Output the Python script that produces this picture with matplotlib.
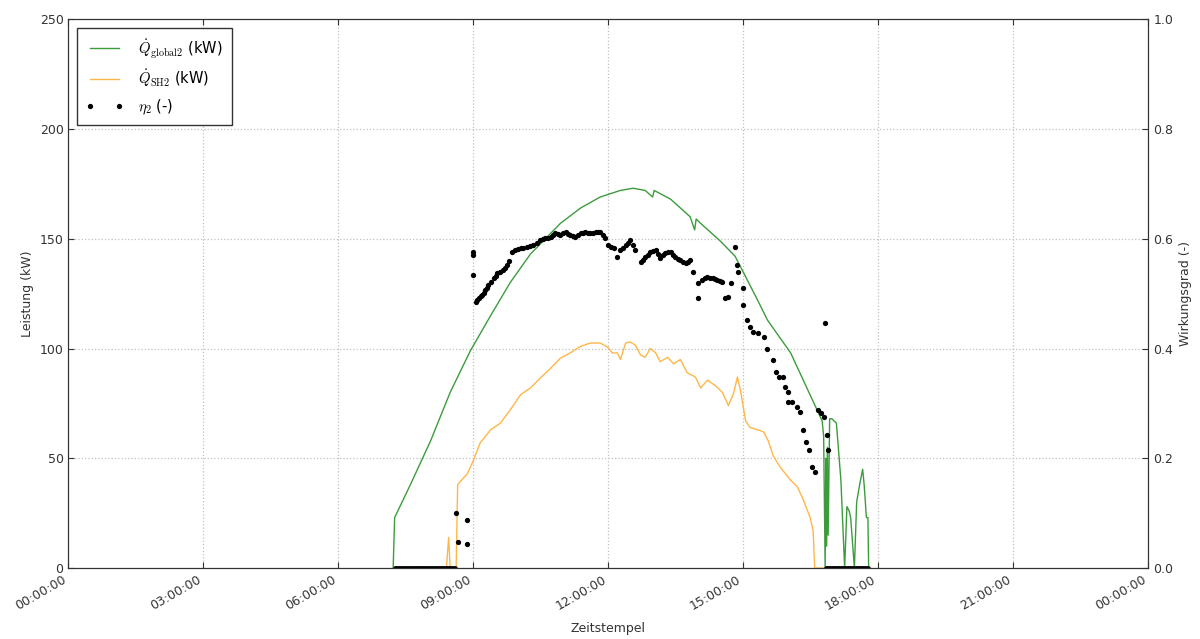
import matplotlib
matplotlib.use("Agg")
import matplotlib.pyplot as plt
import matplotlib.dates as mdates
import pandas as pd

plt.rcParams["mathtext.fontset"] = "cm"

DAY = "2017-06-01"

# Total irradiated power on collector field 2 (kW)
global_times = ["07:13", "07:15", "07:36", "08:03", "08:29", "08:56", "09:23", "09:49",
                "10:16", "10:36", "10:56", "11:23", "11:49", "12:16", "12:33", "12:49",
                "12:59", "13:01", "13:23", "13:49", "13:55", "13:57", "14:03", "14:29",
                "14:49", "15:19", "15:32", "16:03", "16:45", "16:47", "16:49", "16:50",
                "16:51", "16:52", "16:53", "16:55", "16:58", "17:04", "17:10", "17:15",
                "17:18", "17:21", "17:23", "17:28", "17:31", "17:35", "17:39", "17:41",
                "17:44", "17:46", "17:47"]
global_kw = [0, 23, 38, 58, 80, 99, 115, 130,
             143, 150, 157, 164, 169, 172, 173, 172,
             169, 172, 168, 160, 154, 159, 157, 149,
             142, 122, 113, 98, 67, 60, 0, 50,
             10, 55, 15, 68, 68, 66, 40, 0,
             28, 26, 23, 0, 30, 38, 45, 38,
             23, 23, 0]

# Useful heat delivered by collector field 2 (kW)
sh_times = ["07:13", "08:16", "08:24", "08:27", "08:29", "08:37", "08:39", "08:52",
            "09:00", "09:09", "09:23", "09:36", "09:49", "10:03", "10:16", "10:29",
            "10:43", "10:56", "11:09", "11:23", "11:36", "11:49", "11:59", "12:05",
            "12:12", "12:16", "12:23", "12:29", "12:36", "12:43", "12:49", "12:56",
            "13:03", "13:09", "13:19", "13:27", "13:36", "13:45", "13:56", "14:03",
            "14:12", "14:23", "14:32", "14:40", "14:47", "14:52", "14:56", "15:03",
            "15:09", "15:19", "15:27", "15:33", "15:40", "15:49", "16:03", "16:12",
            "16:20", "16:29", "16:33", "16:35", "17:47"]
sh_kw = [0, 0, 0, 14, 0, 0, 38, 43,
         49, 57, 63, 66, 72, 79, 82, 86.5,
         91, 95.6, 98, 101, 102.5, 102.5, 100.6, 98,
         98, 95, 102.5, 103, 101.5, 97, 96, 100,
         98, 94, 96, 93, 95, 89, 87, 82,
         85.6, 83, 80, 74, 79.7, 87, 81, 67,
         64, 63, 62, 58, 51, 46, 40, 37,
         31, 23, 17, 0, 0]

# Efficiency of collector field 2 (-), minute of day
eta_minutes = [517, 520, 531, 531, 539, 540, 540, 543, 545, 547, 550, 552, 554, 556,
               558, 560, 563, 567, 570, 572, 575, 579, 582, 585, 588, 592, 596, 600,
               603, 606, 612, 616, 620, 625, 629, 633, 636, 640, 643, 646, 649, 653,
               656, 660, 663, 666, 669, 673, 676, 680, 683, 686, 689, 693, 696, 700,
               703, 706, 709, 713, 716, 720, 724, 727, 732, 736, 740, 743, 746, 749,
               753, 756, 763, 766, 769, 773, 776, 780, 783, 786, 789, 793, 796, 800,
               803, 806, 809, 813, 816, 820, 823, 826, 829, 833, 839, 840, 845, 849,
               852, 856, 859, 862, 865, 869, 872, 876, 880, 883, 889, 892, 893, 899,
               900, 905, 909, 913, 920, 927, 932, 939, 943, 947, 953, 956, 960, 959,
               965, 972, 976, 979, 983, 987, 992, 996, 1000, 1003, 1007, 1009, 1011,
               1013]
eta_values = [0.100, 0.047, 0.087, 0.044, 0.576, 0.570, 0.534, 0.485, 0.489, 0.492,
              0.495, 0.497, 0.502, 0.506, 0.510, 0.515, 0.521, 0.528, 0.533, 0.537,
              0.540, 0.543, 0.547, 0.552, 0.560, 0.576, 0.579, 0.581, 0.583, 0.584,
              0.585, 0.587, 0.588, 0.592, 0.597, 0.599, 0.601, 0.602, 0.603, 0.606,
              0.610, 0.609, 0.607, 0.610, 0.612, 0.609, 0.607, 0.605, 0.603, 0.607,
              0.610, 0.611, 0.612, 0.611, 0.610, 0.611, 0.612, 0.612, 0.612, 0.606,
              0.601, 0.588, 0.585, 0.583, 0.566, 0.579, 0.584, 0.588, 0.592, 0.597,
              0.588, 0.579, 0.557, 0.562, 0.566, 0.571, 0.576, 0.578, 0.579, 0.572,
              0.565, 0.570, 0.574, 0.575, 0.576, 0.571, 0.566, 0.563, 0.561, 0.558,
              0.555, 0.558, 0.561, 0.539, 0.519, 0.492, 0.525, 0.528, 0.530, 0.529,
              0.528, 0.527, 0.525, 0.523, 0.521, 0.492, 0.494, 0.519, 0.585, 0.552,
              0.539, 0.510, 0.479, 0.452, 0.439, 0.430, 0.428, 0.421, 0.400, 0.379,
              0.357, 0.348, 0.348, 0.330, 0.321, 0.302, 0.302, 0.293, 0.284, 0.251,
              0.230, 0.215, 0.184, 0.175, 0.288, 0.282, 0.275, 0.446, 0.242, 0.215]

# Periods in which the efficiency is logged as zero
eta_zero_periods = [("07:15", "08:36"), ("16:50", "17:47")]


def stamps(times):
    return pd.to_datetime([f"{DAY} {t}" for t in times])


t_global = stamps(global_times)
t_sh = stamps(sh_times)
t_eta = pd.Timestamp(DAY) + pd.to_timedelta(eta_minutes, unit="min")
t_zero = pd.DatetimeIndex([])
for start, end in eta_zero_periods:
    t_zero = t_zero.append(pd.date_range(f"{DAY} {start}", f"{DAY} {end}", freq="2min"))

fig = plt.figure(figsize=(12, 6.39), dpi=100)
ax = fig.add_axes([0.057, 0.111, 0.900, 0.859])
ax2 = ax.twinx()

l1, = ax.plot(t_global, global_kw, color="#3c9c3c", lw=1.0,
              label=r"$\dot{Q}_{\mathrm{global2}}$ (kW)")
l2, = ax.plot(t_sh, sh_kw, color="#ffb648", lw=1.0,
              label=r"$\dot{Q}_{\mathrm{SH2}}$ (kW)")
ax2.plot(t_zero, [0.0] * len(t_zero), "o", color="black", ms=3.4, mec="none")
l3, = ax2.plot(t_eta, eta_values, "o", color="black", ms=3.8, mec="none",
               label=r"$\eta_2$ (-)")

x0 = pd.Timestamp(DAY)
ax.set_xlim(x0, x0 + pd.Timedelta(hours=24))
ax.set_ylim(0, 250)
ax2.set_ylim(0, 1.0)
ax.set_yticks([0, 50, 100, 150, 200, 250])
ax2.set_yticks([0.0, 0.2, 0.4, 0.6, 0.8, 1.0])

ax.xaxis.set_major_locator(mdates.HourLocator(byhour=[0, 3, 6, 9, 12, 15, 18, 21]))
ax.xaxis.set_major_formatter(mdates.DateFormatter("%H:%M:%S"))
for lab in ax.get_xticklabels():
    lab.set_rotation(30)
    lab.set_ha("right")

ax.grid(True, color="#c0c0c0", linestyle=":", linewidth=0.9)
for a in (ax, ax2):
    a.tick_params(direction="in", labelsize=9, length=4, colors="#333333",
                  labelcolor="#333333")
ax.tick_params(top=True)
for sp in ax.spines.values():
    sp.set_color("#333333")
for sp in ax2.spines.values():
    sp.set_color("#333333")

ax.set_xlabel("Zeitstempel", fontsize=9, color="#333333")
ax.set_ylabel("Leistung (kW)", fontsize=9, color="#333333")
ax2.set_ylabel("Wirkungsgrad (-)", fontsize=9, color="#333333")
ax.xaxis.set_label_coords(0.5, -0.098)

leg = ax.legend(handles=[l1, l2, l3], loc="upper left", fontsize=10.5, numpoints=2,
                fancybox=False, framealpha=1, edgecolor="#333333",
                borderaxespad=0.6, handlelength=2.6, borderpad=0.6,
                labelspacing=0.55, handletextpad=1.0)
leg.get_frame().set_linewidth(1.0)

fig.savefig("out.png", dpi=100)
